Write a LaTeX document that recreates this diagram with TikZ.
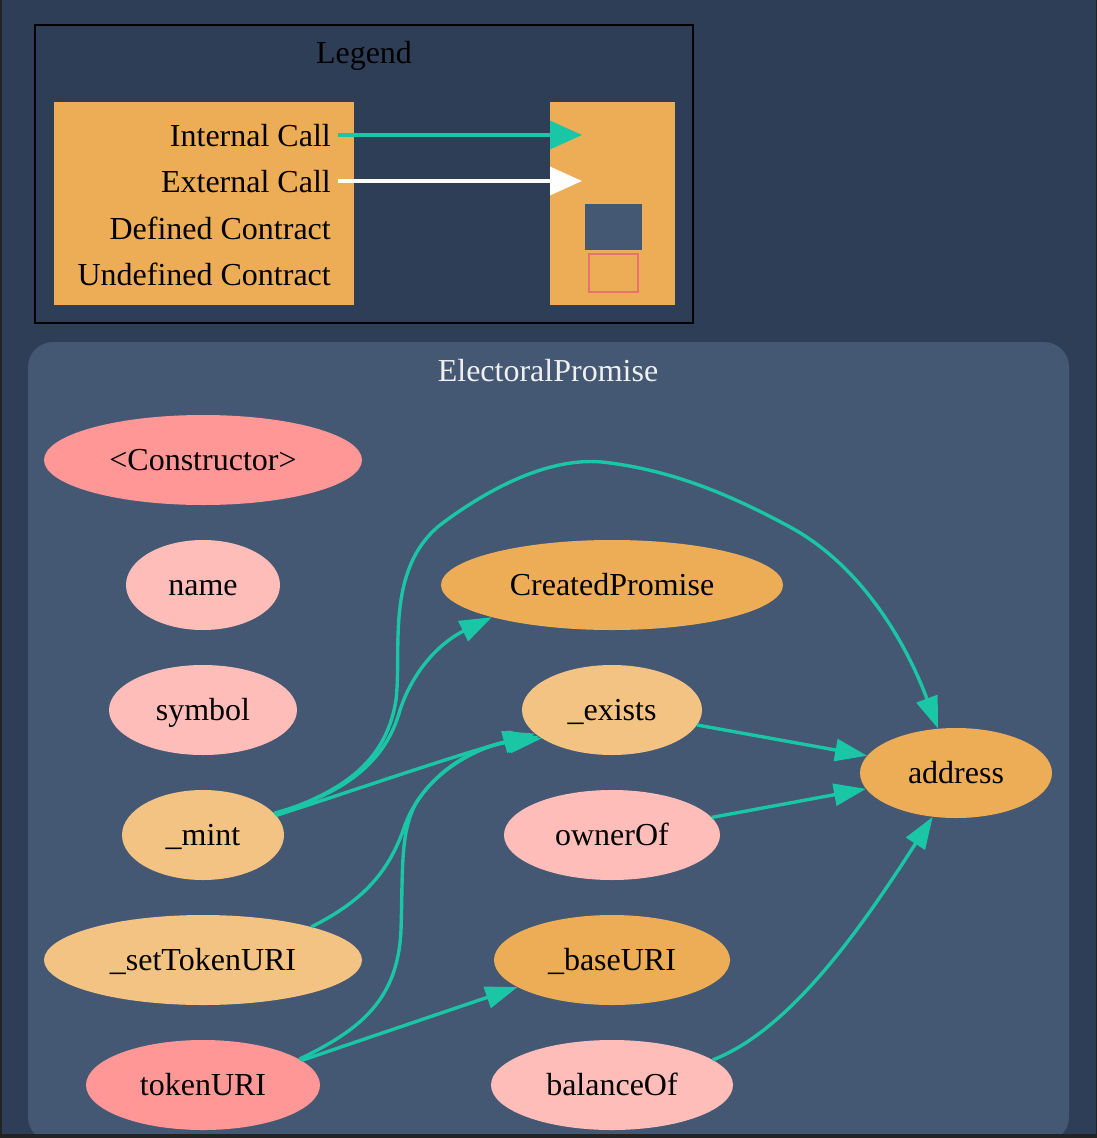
\documentclass[tikz,border=0pt]{standalone}
\usepackage{fontspec}
\setmainfont{Liberation Serif}
\usetikzlibrary{arrows.meta,shapes.geometric}
\definecolor{bgc}{HTML}{2E3E56}
\definecolor{clusterc}{HTML}{445773}
\definecolor{orangec}{HTML}{EDAD56}
\definecolor{lorangec}{HTML}{F2C383}
\definecolor{pinkc}{HTML}{FF9797}
\definecolor{lpinkc}{HTML}{FFBDB9}
\definecolor{tealc}{HTML}{1BC6A6}
\definecolor{undefc}{HTML}{E8726D}
\definecolor{framec}{HTML}{232323}
\definecolor{labelc}{HTML}{F0F0F0}
\begin{document}
\begin{tikzpicture}[x=1pt,y=-1pt,
  bigfont/.style={font=\fontsize{32}{38}\selectfont},
  fn/.style={ellipse, inner sep=0pt, text height=26pt, text depth=6pt, bigfont, text=black, minimum height=90pt},
  call/.style={draw=tealc, line width=3.4pt, -{Triangle[length=32pt,width=22pt]}},
  legtext/.style={bigfont, text=black, anchor=base east, inner sep=0pt},
  legbox/.style={fill=orangec}
]
\useasboundingbox (0,0) rectangle (1097,1138);
\fill[bgc] (0,0) rectangle (1097,1138);
% cluster
\fill[clusterc, rounded corners=25pt] (28,342) rectangle (1069,1142);
\node[bigfont, text=labelc, inner sep=0pt, text height=26pt, text depth=6pt] (clusterlabel) at (548,371) {ElectoralPromise};
% window frame lines
\fill[framec] (0,0) rectangle (1.5,1138);
\fill[framec] (1095.5,0) rectangle (1097,1138);
\fill[framec] (0,1134) rectangle (1097,1138);

% legend
\draw[black, line width=2pt] (35,25) rectangle (693,323);
\node[bigfont, text=black, inner sep=0pt, text height=26pt, text depth=6pt] (legendtitle) at (364,53) {Legend};
\fill[legbox] (54,102) rectangle (354,305);
\fill[legbox] (550,102) rectangle (675,305);
\node[legtext] (lint) at (331,146) {Internal Call};
\node[legtext] (lext) at (331,192) {External Call};
\node[legtext] (ldef) at (331,239) {Defined Contract};
\node[legtext] (lundef) at (331,285) {Undefined Contract};
\coordinate (lintA) at (338,135);
\coordinate (lintB) at (582,135);
\coordinate (lextA) at (338,181);
\coordinate (lextB) at (582,181);
\draw[draw=tealc, line width=3.4pt, -{Triangle[length=32pt,width=28pt]}] (lintA) -- (lintB);
\draw[draw=white, line width=3.4pt, -{Triangle[length=32pt,width=28pt]}] (lextA) -- (lextB);
\fill[clusterc] (585,204) rectangle (642,250);
\draw[undefc, line width=1.5pt] (589,254) rectangle (638,292);

% nodes
\node[fn, fill=pinkc, minimum width=318pt] (ctor) at (203,460) {<Constructor>};
\node[fn, fill=lpinkc, minimum width=154pt] (name) at (203,585) {name};
\node[fn, fill=lpinkc, minimum width=188pt] (symbol) at (203,710) {symbol};
\node[fn, fill=lorangec, minimum width=162pt] (mint) at (203,835) {\_mint};
\node[fn, fill=lorangec, minimum width=318pt] (settoken) at (203,960) {\_setTokenURI};
\node[fn, fill=pinkc, minimum width=234pt] (tokenuri) at (203,1085) {tokenURI};
\node[fn, fill=orangec, minimum width=342pt] (created) at (612,585) {CreatedPromise};
\node[fn, fill=lorangec, minimum width=180pt] (exists) at (612,710) {\_exists};
\node[fn, fill=lpinkc, minimum width=216pt] (ownerof) at (612,835) {ownerOf};
\node[fn, fill=orangec, minimum width=236pt] (baseuri) at (612,960) {\_baseURI};
\node[fn, fill=lpinkc, minimum width=242pt] (balanceof) at (612,1085) {balanceOf};
\node[fn, fill=orangec, minimum width=192pt] (address) at (956,773) {address};

% edges
\draw[call] (mint.16) .. controls (330,795) and (385,770) .. (396,700)
  .. controls (402,650) and (385,570) .. (440,525)
  .. controls (500,480) and (560,455) .. (610,463)
  .. controls (680,472) and (740,500) .. (790,527)
  .. controls (860,565) and (905,640) .. (address.112);
\draw[call] (mint.17) .. controls (340,795) and (385,765) .. (400,710)
  .. controls (415,665) and (445,640) .. (created.195);
\draw[call] (mint.15) .. controls (340,795) and (450,757) .. (exists.197);
\draw[call] (settoken.17) .. controls (365,900) and (390,870) .. (405,825)
  .. controls (420,785) and (460,750) .. (exists.200);
\draw[call] (tokenuri.15) .. controls (360,1030) and (398,1000) .. (401,930)
  .. controls (403,870) and (400,835) .. (415,805)
  .. controls (435,770) and (480,745) .. (exists.202);
\draw[call] (tokenuri.14) -- (baseuri.196);
\draw[call] (exists.350) -- (address.169);
\draw[call] (ownerof.10) -- (address.190);
\draw[call] (balanceof.14) .. controls (790,1030) and (860,930) .. (address.242);
\end{tikzpicture}
\end{document}
